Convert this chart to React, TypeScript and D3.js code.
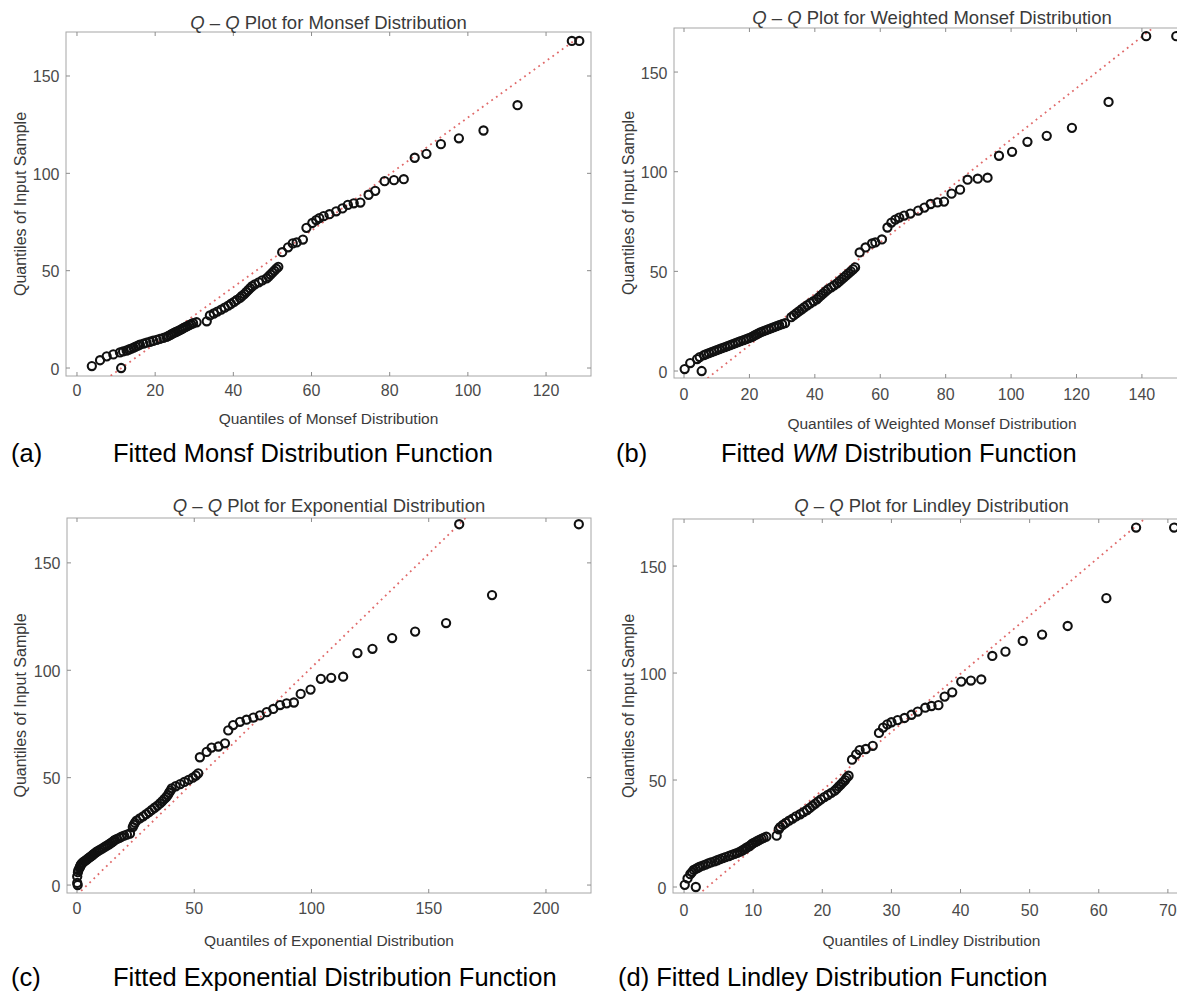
import React from "react";
import * as d3 from "d3";

// ---------- data ----------
// Sample quantiles (shared y values of all four Q-Q plots)
const SAMPLE_QUANTILES = [
  0, 1, 4, 6, 7, 8, 8.5, 9, 9.5, 10, 10.5, 11, 11.5, 12, 12.5, 13, 13.5, 14, 14.5, 15,
  15.5, 16, 16.5, 17, 17.5, 18, 18.5, 19, 19.5, 20, 20.5, 21, 21.5, 22, 22.5, 23, 23.5, 24,
  27, 28, 29, 30, 31, 32, 33, 34, 35, 36, 37, 38, 39, 40, 41, 42, 43, 44, 45, 46, 47, 48,
  49, 50, 51, 52,
  59.5, 62, 64, 64.5, 66, 72, 74.5, 76, 77, 78, 79, 80.5, 82, 83.8, 84.6, 85, 89, 91,
  96, 96.5, 97, 108, 110, 115, 118, 122, 135, 168, 168,
];

const MONSEF_QUANTILES = [
  11.3, 3.8, 5.9, 7.6, 9.3, 11.0, 11.8, 12.7, 13.3, 13.9, 14.5, 15.0, 15.6, 16.1, 17.0,
  17.8, 18.7, 19.5, 20.4, 21.2, 22.1, 22.9, 23.4, 23.9, 24.3, 24.8, 25.3, 25.8, 26.3, 26.8,
  27.2, 27.7, 28.2, 28.7, 29.2, 29.7, 30.6, 33.2, 34.0, 35.0, 35.9, 36.9, 37.8, 38.7, 39.4,
  40.2, 40.9, 41.7, 42.2, 42.8, 43.3, 43.8, 44.3, 44.8, 45.5, 46.5, 47.4, 48.5, 49.0, 49.5,
  50.0, 50.5, 51.0, 51.5,
  52.5, 54.0, 55.2, 56.2, 57.8, 58.7, 60.2, 61.2, 62.0, 63.1, 64.6, 66.3, 67.9, 69.3, 70.8,
  72.5, 74.6, 76.3,
  78.7, 81.1, 83.6, 86.4, 89.4, 93.1, 97.7, 104, 112.7, 126.6, 128.5,
];

const WEIGHTED_MONSEF_QUANTILES = [
  5.4, 0.2, 1.9, 4.0, 4.8, 6.1, 6.8, 7.6, 8.4, 9.2, 10.0, 10.8, 11.6, 12.5, 13.3, 14.1,
  14.9, 15.7, 16.5, 17.3, 18.2, 19.0, 19.8, 20.6, 21.2, 21.7, 22.3, 22.9, 23.5, 24.3, 25.1,
  25.9, 26.7, 27.5, 28.3, 29.1, 30.0, 30.9, 32.8, 33.6, 34.4, 35.2, 36.0, 36.8, 37.7, 38.6,
  39.6, 40.6, 41.2, 41.9, 42.6, 43.3, 44.0, 45.0, 45.9, 46.8, 47.5, 48.2, 48.9, 49.6, 50.3,
  51.0, 51.7, 52.3,
  53.7, 55.5, 57.5, 58.5, 60.5, 62.2, 63.4, 64.6, 65.8, 67.3, 69.2, 71.6, 73.5, 75.4, 77.5,
  79.5, 81.8, 84.4,
  86.7, 89.8, 92.8, 96.3, 100.3, 105, 110.9, 118.6, 129.8, 141.3, 150.5,
];

const EXPONENTIAL_QUANTILES = [
  0.3, 0.1, 0.1, 0.4, 0.6, 1.1, 1.3, 1.5, 1.7, 2.0, 2.5, 3.1, 3.7, 4.3, 4.9, 5.5, 6.1, 6.7,
  7.2, 7.8, 8.4, 9.2, 9.9, 10.7, 11.5, 12.2, 12.9, 13.7, 14.4, 15.0, 15.6, 16.2, 17.1, 18.1,
  19.0, 20.1, 21.3, 22.6, 23.8, 24.2, 24.7, 25.4, 26.8, 28.2, 29.5, 30.7, 31.9, 33.1, 34.3,
  35.4, 36.3, 37.2, 38.1, 38.8, 39.3, 39.9, 40.4, 42.1, 44.0, 45.8, 47.6, 49.4, 50.7, 51.7,
  52.4, 55.3, 57.4, 60.3, 63.1, 64.5, 66.6, 69.5, 72.3, 75.2, 78.0, 80.9, 83.7, 86.6, 89.4,
  92.5, 95.4, 99.6,
  104, 108.4, 113.5, 119.6, 126, 134.4, 144.2, 157.4, 177, 163, 214,
];

const LINDLEY_QUANTILES = [
  1.7, 0.1, 0.5, 0.9, 1.15, 1.4, 1.7, 2.0, 2.3, 2.7, 3.1, 3.5, 3.9, 4.4, 4.8, 5.2, 5.6, 6.0,
  6.5, 6.9, 7.3, 7.7, 8.1, 8.4, 8.6, 8.9, 9.1, 9.4, 9.6, 9.8, 10.0, 10.3, 10.6, 10.9, 11.2,
  11.5, 11.9, 13.4, 13.7, 13.9, 14.3, 14.7, 15.2, 15.7, 16.2, 16.8, 17.3, 17.8, 18.2, 18.6,
  19.0, 19.4, 19.8, 20.3, 20.8, 21.3, 21.8, 22.1, 22.4, 22.7, 23.0, 23.3, 23.5, 23.8,
  24.3, 24.9, 25.4, 26.3, 27.3, 28.2, 28.8, 29.4, 30.0, 30.9, 31.9, 32.9, 33.8, 34.9, 35.8,
  36.8, 37.7, 38.8,
  40.1, 41.5, 43.0, 44.6, 46.5, 49.0, 51.8, 55.5, 61.1, 65.4, 70.9,
];

const X_TICKS_MONSEF = [0, 20, 40, 60, 80, 100, 120];
const X_TICKS_WEIGHTED = [0, 20, 40, 60, 80, 100, 120, 140];
const X_TICKS_EXPONENTIAL = [0, 50, 100, 150, 200];
const X_TICKS_LINDLEY = [0, 10, 20, 30, 40, 50, 60, 70];
const Y_TICKS = [0, 50, 100, 150];

// reference (fitted) lines: two end points [x, y]
const REF_LINE_MONSEF = [[3.8, -11], [128.5, 170]];
const REF_LINE_WEIGHTED = [[0.2, -12.6], [150.5, 181.3]];
const REF_LINE_EXPONENTIAL = [[0, -4.6], [214, 222]];
const REF_LINE_LINDLEY = [[0.1, -8.9], [70.9, 183.7]];

// ---------- layout ----------
type PanelCfg = {
  id: string;
  xs: number[];
  xTicks: number[];
  line: number[][];
  frame: { l: number; r: number; t: number; b: number };
  xDom: [number, number];
  yDom: [number, number];
  dist: string;
  titleY: number;
  xLabel: string;
  xLabelY: number;
  xTickY: number;
  yLabelX: number;
};

const PANELS: PanelCfg[] = [
  {
    id: "a", xs: MONSEF_QUANTILES, xTicks: X_TICKS_MONSEF, line: REF_LINE_MONSEF,
    frame: { l: 66, r: 591, t: 32, b: 376 }, xDom: [-2.81, 131.5], yDom: [-4.1, 172.6],
    dist: "Monsef Distribution", titleY: 22, xLabel: "Quantiles of Monsef Distribution",
    xLabelY: 418, xTickY: 390, yLabelX: 20,
  },
  {
    id: "b", xs: WEIGHTED_MONSEF_QUANTILES, xTicks: X_TICKS_WEIGHTED, line: REF_LINE_WEIGHTED,
    frame: { l: 674, r: 1190, t: 28, b: 378 }, xDom: [-3.06, 154.7], yDom: [-3.5, 172.1],
    dist: "Weighted Monsef Distribution", titleY: 17,
    xLabel: "Quantiles of Weighted Monsef Distribution", xLabelY: 423, xTickY: 394, yLabelX: 628,
  },
  {
    id: "c", xs: EXPONENTIAL_QUANTILES, xTicks: X_TICKS_EXPONENTIAL, line: REF_LINE_EXPONENTIAL,
    frame: { l: 67, r: 591, t: 518, b: 893 }, xDom: [-4.26, 219.2], yDom: [-3.7, 170.9],
    dist: "Exponential Distribution", titleY: 505, xLabel: "Quantiles of Exponential Distribution",
    xLabelY: 940, xTickY: 908, yLabelX: 20,
  },
  {
    id: "d", xs: LINDLEY_QUANTILES, xTicks: X_TICKS_LINDLEY, line: REF_LINE_LINDLEY,
    frame: { l: 673, r: 1190, t: 519, b: 893 }, xDom: [-1.6, 73.2], yDom: [-2.8, 172],
    dist: "Lindley Distribution", titleY: 505, xLabel: "Quantiles of Lindley Distribution",
    xLabelY: 940, xTickY: 910, yLabelX: 628,
  },
];

const FONT = "'Liberation Sans', Arial, Helvetica, sans-serif";

function Panel({ p }: { p: PanelCfg }) {
  const { l, r, t, b } = p.frame;
  const x = d3.scaleLinear().domain(p.xDom).range([l, r]);
  const y = d3.scaleLinear().domain(p.yDom).range([b, t]);
  const lineGen = d3
    .line<number[]>()
    .x((d) => x(d[0]))
    .y((d) => y(d[1]));
  const clipId = `clip-${p.id}`;
  const cx = (l + r) / 2;
  const cy = (t + b) / 2;
  const tickCol = "#8c8c8c";
  return (
    <g>
      <defs>
        <clipPath id={clipId}>
          <rect x={l} y={t} width={r - l} height={b - t} />
        </clipPath>
      </defs>
      <rect x={l} y={t} width={r - l} height={b - t} fill="#fff" stroke="#a6a6a6" strokeWidth={1} />
      {p.xTicks.map((v) => (
        <g key={"x" + v}>
          <line x1={x(v)} x2={x(v)} y1={b} y2={b - 4} stroke={tickCol} />
          <line x1={x(v)} x2={x(v)} y1={t} y2={t + 4} stroke={tickCol} />
          <text x={x(v)} y={p.xTickY} textAnchor="middle" dominantBaseline="central"
            fontSize={16} fill="#4a4a4a">{v}</text>
        </g>
      ))}
      {Y_TICKS.map((v) => (
        <g key={"y" + v}>
          <line x1={l} x2={l + 4} y1={y(v)} y2={y(v)} stroke={tickCol} />
          <line x1={r} x2={r - 4} y1={y(v)} y2={y(v)} stroke={tickCol} />
          <text x={l - 6.5} y={y(v) + 1} textAnchor="end" dominantBaseline="central"
            fontSize={16} fill="#4a4a4a">{v}</text>
        </g>
      ))}
      <path d={lineGen(p.line) || ""} clipPath={`url(#${clipId})`} fill="none"
        stroke="#e06a6a" strokeWidth={1.8} strokeDasharray="1.8 4" />
      {p.xs.map((xv, i) => (
        <circle key={i} cx={x(xv)} cy={y(SAMPLE_QUANTILES[i])} r={4.1}
          fill="none" stroke="#111" strokeWidth={2.1} />
      ))}
      <text x={cx} y={p.titleY} textAnchor="middle" dominantBaseline="central"
        fontSize={18.5} fill="#3a3a3a">
        <tspan fontStyle="italic">Q</tspan>
        {" – "}
        <tspan fontStyle="italic">Q</tspan>
        {" Plot for " + p.dist}
      </text>
      <text x={cx} y={p.xLabelY} textAnchor="middle" dominantBaseline="central"
        fontSize={15.5} fill="#3a3a3a">{p.xLabel}</text>
      <text x={p.yLabelX} y={cy} textAnchor="middle" dominantBaseline="central"
        fontSize={16} fill="#3a3a3a" transform={`rotate(-90 ${p.yLabelX} ${cy})`}>
        Quantiles of Input Sample
      </text>
    </g>
  );
}

export default function App() {
  return (
    <div style={{ position: "absolute", left: 0, top: 0 }}>
      <svg width={1177} height={995} style={{ display: "block", background: "#fff" }}
        fontFamily={FONT}>
        {PANELS.map((p) => (
          <Panel key={p.id} p={p} />
        ))}
        <g fontSize={25.5} fill="#000">
          <text x={11} y={462}>(a)</text>
          <text x={113} y={462}>Fitted Monsf Distribution Function</text>
          <text x={616} y={462}>(b)</text>
          <text x={721} y={462}>
            {"Fitted "}
            <tspan fontStyle="italic">WM</tspan>
            {" Distribution Function"}
          </text>
          <text x={11} y={986}>(c)</text>
          <text x={113} y={986}>Fitted Exponential Distribution Function</text>
          <text x={618} y={986}>(d) Fitted Lindley Distribution Function</text>
        </g>
      </svg>
    </div>
  );
}
